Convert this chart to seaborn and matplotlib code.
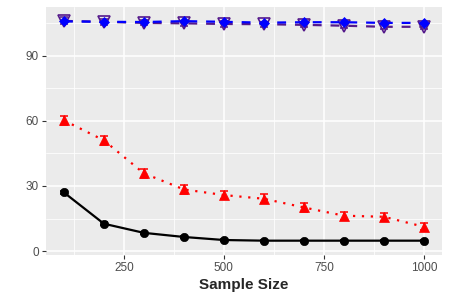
import numpy as np
import pandas as pd
import matplotlib
matplotlib.use("Agg")
import matplotlib.pyplot as plt
import seaborn as sns

# 데이터
sample_size = [100, 200, 300, 400, 500, 600, 700, 800, 900, 1000]
black_vals = [27.0, 12.6, 8.4, 6.5, 5.1, 4.8, 4.8, 4.8, 4.8, 4.8]
black_err = [0.8, 0.7, 0.6, 0.5, 0.4, 0.4, 0.4, 0.4, 0.4, 0.4]
red_vals = [60.2, 51.0, 35.8, 28.4, 25.8, 24.1, 20.1, 16.3, 15.8, 11.2]
red_err = [2.0, 2.2, 2.0, 2.0, 2.0, 2.0, 2.0, 1.8, 1.8, 1.6]
blue_vals = [105.8, 105.6, 105.5, 105.9, 105.6, 105.2, 105.4, 105.4, 105.1, 105.1]
purple_vals = [106.0, 105.6, 105.1, 104.9, 104.6, 104.5, 104.2, 103.8, 103.3, 103.3]
purple_err = [1.6, 1.4, 1.2, 1.2, 1.2, 1.2, 1.2, 1.2, 1.2, 1.2]

sns.set_theme(style="darkgrid", rc={
    "axes.facecolor": "#EBEBEB",
    "grid.color": "white",
    "axes.edgecolor": "none",
})
plt.rcParams["font.family"] = ["Liberation Sans", "DejaVu Sans"]

fig, ax = plt.subplots(figsize=(4.5, 3), dpi=100)
fig.subplots_adjust(left=0.102, right=0.982, top=0.978, bottom=0.15)

series = [
    (black_vals, black_err, "black", "-", "o", 6, True),
    (red_vals, red_err, "red", (0, (1, 3)), "^", 7, True),
    (purple_vals, purple_err, "#551A8B", (0, (4, 4)), "v", 8, False),
    (blue_vals, None, "blue", (0, (4, 4)), "D", 5, True),
]

for vals, err, col, ls, mk, ms, filled in series:
    if err is not None:
        ax.errorbar(sample_size, vals, yerr=err, fmt="none", ecolor=col,
                    elinewidth=1.1, capsize=3, capthick=1.1, zorder=3)
    sns.lineplot(x=sample_size, y=vals, ax=ax, color=col, linestyle=ls,
                 linewidth=1.6, marker=mk, markersize=ms,
                 markerfacecolor=col if filled else "none",
                 markeredgecolor=col, markeredgewidth=1.2 if not filled else 0.5,
                 zorder=4)

ax.set_xlim(55, 1045)
ax.set_ylim(-1.8, 112.6)
ax.set_xticks([250, 500, 750, 1000])
ax.set_xticks([125, 375, 625, 875], minor=True)
ax.set_yticks([0, 30, 60, 90])
ax.set_yticks([15, 45, 75, 105], minor=True)
ax.grid(which="major", color="white", linewidth=1.1)
ax.grid(which="minor", color="white", linewidth=0.55)
ax.tick_params(axis="both", which="major", length=3, width=0.8, color="#333333",
               labelsize=8.5, labelcolor="#4D4D4D", pad=2, bottom=True, left=True)
ax.tick_params(which="minor", length=0)
ax.set_xlabel("Sample Size", fontsize=11, fontweight="bold", labelpad=3)
ax.set_ylabel("")

plt.savefig("out.png", dpi=100)
